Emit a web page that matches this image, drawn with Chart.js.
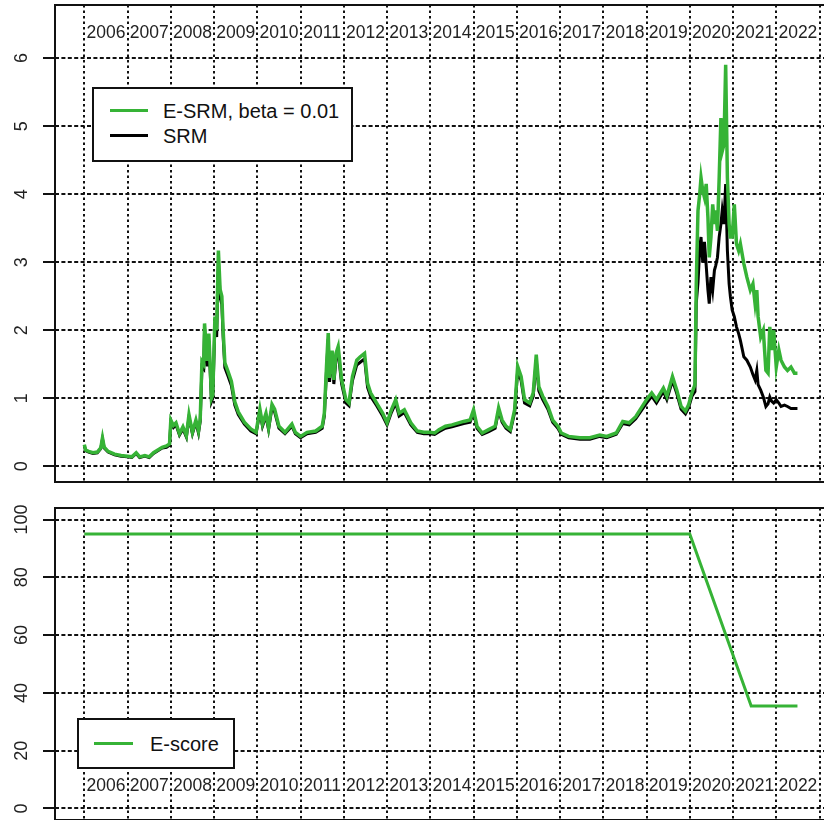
<!DOCTYPE html>
<html>
<head>
<meta charset="utf-8">
<script src="https://cdn.jsdelivr.net/npm/chart.js@4.4.0/dist/chart.umd.min.js"></script>
<style>
  html, body { margin:0; padding:0; background:#fff; overflow:hidden; width:824px; height:820px; }
  #wrap { position:relative; width:824px; height:820px; overflow:hidden; }
  canvas { position:absolute; left:0; }
  #c1 { top:0; }
  #c2 { top:490px; }
  .legend { position:absolute; background:#fff; border:2px solid #111; box-sizing:border-box;
            font-family:"Liberation Sans", Arial, sans-serif; font-size:20px; color:#111; }
  .legend .row { position:absolute; left:0; height:24px; line-height:24px; white-space:nowrap; }
  .legend .sw { position:absolute; top:10px; height:3px; }
  .legend .tx { position:absolute; top:0; }
</style>
</head>
<body>
<div id="wrap">
  <canvas id="c1" width="830" height="490"></canvas>
  <canvas id="c2" width="830" height="330"></canvas>
  <div id="leg1" class="legend" style="left:92px;top:87px;width:261px;height:75px"></div>
  <div id="leg2" class="legend" style="left:77px;top:718px;width:158px;height:51px"></div>
</div>
<script>
// ---------------- DATA ----------------
const dates = [
  2006.00, 2006.03, 2006.10, 2006.20, 2006.30, 2006.38, 2006.42, 2006.46, 2006.55, 2006.70, 2006.85,
  2007.00, 2007.10, 2007.20, 2007.28, 2007.40, 2007.50, 2007.60, 2007.70, 2007.80, 2007.90, 2007.97,
  2008.00, 2008.06, 2008.12, 2008.20, 2008.28, 2008.36, 2008.42, 2008.50, 2008.58, 2008.64, 2008.68, 2008.72, 2008.76, 2008.78, 2008.84, 2008.88, 2008.94, 2008.97,
  2009.02, 2009.06, 2009.10, 2009.14, 2009.18, 2009.21, 2009.25, 2009.32, 2009.40, 2009.48, 2009.56, 2009.70, 2009.85, 2009.97,
  2010.06, 2010.12, 2010.20, 2010.26, 2010.34, 2010.40, 2010.50, 2010.64, 2010.80, 2010.88,
  2011.00, 2011.15, 2011.35, 2011.50, 2011.55, 2011.60, 2011.64, 2011.67, 2011.73, 2011.77, 2011.82, 2011.87, 2011.95,
  2012.05, 2012.12, 2012.20, 2012.30, 2012.38, 2012.48, 2012.55, 2012.62, 2012.76, 2012.90,
  2013.00, 2013.10, 2013.20, 2013.28, 2013.40, 2013.55, 2013.70, 2013.85,
  2014.00, 2014.10, 2014.20, 2014.35, 2014.50, 2014.77, 2014.92,
  2015.00, 2015.08, 2015.20, 2015.35, 2015.50, 2015.58, 2015.66, 2015.75, 2015.85, 2015.95,
  2016.02, 2016.10, 2016.18, 2016.30, 2016.38, 2016.45, 2016.51, 2016.60, 2016.72, 2016.83, 2016.95,
  2017.03, 2017.20, 2017.46, 2017.69, 2017.92,
  2018.08, 2018.30, 2018.45, 2018.60, 2018.75,
  2019.00, 2019.12, 2019.23, 2019.39, 2019.47, 2019.60, 2019.70, 2019.80, 2019.90, 2019.97,
  2020.05, 2020.12, 2020.15, 2020.19, 2020.23, 2020.26, 2020.30, 2020.34, 2020.38, 2020.42, 2020.45, 2020.49, 2020.53, 2020.57, 2020.60, 2020.64, 2020.68, 2020.72, 2020.75, 2020.79, 2020.83, 2020.87, 2020.91, 2020.94, 2020.98,
  2021.03, 2021.08, 2021.13, 2021.17, 2021.25, 2021.32, 2021.40, 2021.46, 2021.51, 2021.55, 2021.58, 2021.64, 2021.70, 2021.76, 2021.81, 2021.85, 2021.89, 2021.94,
  2022.00, 2022.06, 2022.11, 2022.19, 2022.26, 2022.34, 2022.42, 2022.49
];

const esrm = [
  0.32, 0.24, 0.22, 0.20, 0.21, 0.27, 0.42, 0.28, 0.22, 0.18, 0.16,
  0.15, 0.14, 0.20, 0.14, 0.16, 0.14, 0.20, 0.24, 0.28, 0.30, 0.33,
  0.68, 0.60, 0.64, 0.48, 0.58, 0.45, 0.76, 0.50, 0.68, 0.52, 0.70, 1.54, 1.50, 2.10, 1.55, 1.95, 1.00, 1.05,
  2.20, 2.00, 3.17, 2.60, 2.50, 2.00, 1.52, 1.40, 1.25, 0.95, 0.80, 0.65, 0.55, 0.50,
  0.84, 0.62, 0.78, 0.57, 0.91, 0.84, 0.59, 0.50, 0.62, 0.50,
  0.44, 0.50, 0.52, 0.59, 0.78, 1.47, 1.96, 1.30, 1.70, 1.27, 1.66, 1.76, 1.27,
  0.98, 0.93, 1.32, 1.56, 1.61, 1.66, 1.22, 1.08, 0.93, 0.78,
  0.64, 0.83, 0.98, 0.78, 0.83, 0.64, 0.52, 0.50,
  0.50, 0.49, 0.54, 0.59, 0.61, 0.66, 0.68,
  0.83, 0.59, 0.49, 0.54, 0.59, 0.86, 0.68, 0.59, 0.54, 0.83,
  1.47, 1.32, 0.98, 0.93, 1.08, 1.64, 1.17, 1.03, 0.88, 0.68, 0.59,
  0.49, 0.44, 0.42, 0.42, 0.46,
  0.44, 0.49, 0.66, 0.64, 0.73,
  0.98, 1.08, 0.98, 1.15, 1.03, 1.32, 1.12, 0.88, 0.81, 0.90,
  1.08, 1.20, 2.68, 3.76, 4.00, 4.24, 4.05, 3.95, 4.15, 3.66, 3.07, 3.37, 3.85, 3.56, 3.76, 3.46, 4.24, 5.12, 4.63, 4.73, 5.90, 4.24, 3.56, 3.37, 3.37,
  3.85, 3.27, 3.17, 3.27, 2.98, 2.78, 2.59, 2.68, 2.39, 2.59, 2.20, 1.90, 2.00, 1.41, 1.37, 2.05, 1.71, 2.00,
  1.46, 1.71, 1.56, 1.46, 1.41, 1.46, 1.37, 1.37
];

const srm = [
  0.30, 0.23, 0.21, 0.19, 0.20, 0.26, 0.40, 0.27, 0.21, 0.17, 0.15,
  0.14, 0.13, 0.19, 0.13, 0.15, 0.13, 0.19, 0.23, 0.27, 0.28, 0.31,
  0.64, 0.57, 0.61, 0.46, 0.55, 0.43, 0.72, 0.48, 0.65, 0.49, 0.66, 1.46, 1.43, 2.00, 1.47, 1.85, 0.95, 1.00,
  2.09, 1.90, 3.02, 2.48, 2.38, 1.90, 1.45, 1.33, 1.19, 0.90, 0.76, 0.62, 0.52, 0.48,
  0.80, 0.59, 0.74, 0.54, 0.87, 0.80, 0.56, 0.48, 0.59, 0.48,
  0.42, 0.48, 0.50, 0.56, 0.74, 1.40, 1.87, 1.24, 1.62, 1.21, 1.58, 1.68, 1.21,
  0.93, 0.89, 1.26, 1.49, 1.53, 1.58, 1.16, 1.03, 0.89, 0.74,
  0.61, 0.79, 0.93, 0.74, 0.79, 0.61, 0.50, 0.48,
  0.48, 0.47, 0.51, 0.56, 0.58, 0.63, 0.65,
  0.79, 0.56, 0.47, 0.51, 0.56, 0.82, 0.65, 0.56, 0.51, 0.79,
  1.40, 1.26, 0.93, 0.89, 1.03, 1.56, 1.11, 0.98, 0.84, 0.65, 0.56,
  0.47, 0.42, 0.40, 0.40, 0.44,
  0.42, 0.47, 0.63, 0.61, 0.70,
  0.93, 1.03, 0.93, 1.10, 0.98, 1.26, 1.07, 0.84, 0.77, 0.86,
  1.03, 1.10, 2.40, 2.70, 3.20, 3.37, 3.00, 3.30, 2.95, 2.59, 2.39, 2.78, 2.59, 2.88, 2.95, 3.07, 3.37, 3.56, 3.76, 3.56, 4.15, 3.17, 2.68, 2.49, 2.30,
  2.20, 2.05, 1.95, 1.85, 1.61, 1.56, 1.46, 1.35, 1.27, 1.41, 1.20, 1.12, 1.02, 0.88, 0.92, 1.02, 0.96, 0.93,
  0.98, 0.93, 0.88, 0.90, 0.88, 0.85, 0.85, 0.85
];

const escoreDates = [2006.00, 2020.00, 2021.42, 2022.49];
const escore      = [95, 95, 35.5, 35.5];

const gridYears  = [2006, 2007, 2008, 2009, 2010, 2011, 2012, 2013, 2014, 2015, 2016, 2017, 2018, 2019, 2020, 2021, 2022, 2023];
const yearLabels = ['2006','2007','2008','2009','2010','2011','2012','2013','2014','2015','2016','2017','2018','2019','2020','2021','2022'];

const seriesLabels = ['E-SRM, beta = 0.01', 'SRM', 'E-score'];

// ---------------- STYLE / CONFIG ----------------
const GREEN = '#36b336';
const FONT = '"Liberation Sans", Arial, sans-serif';
const X_MIN = 2005.322, X_MAX = 2023.15;

const toXY = (xs, ys) => xs.map((x, i) => ({x: x, y: ys[i]}));

const framePlugin = {
  id: 'frame',
  afterDraw(chart) {
    const {ctx, chartArea: a} = chart;
    ctx.save();
    ctx.strokeStyle = '#111';
    ctx.lineWidth = 2;
    ctx.strokeRect(a.left, a.top, a.right - a.left, a.bottom - a.top);
    ctx.restore();
  }
};

const yearLabelPlugin = {
  id: 'yearLabels',
  afterDraw(chart, args, opts) {
    const {ctx, chartArea: a} = chart;
    const xs = chart.scales.x;
    ctx.save();
    ctx.font = '17.5px ' + FONT;
    ctx.fillStyle = '#222';
    ctx.textAlign = 'center';
    ctx.textBaseline = 'middle';
    const y = opts.fromTop != null ? a.top + opts.fromTop : a.bottom - opts.fromBottom;
    yearLabels.forEach((lab) => {
      const v = Number(lab) + 0.5;
      ctx.fillText(lab, xs.getPixelForValue(v), y);
    });
    ctx.restore();
  }
};

function noPad(s) { s.paddingTop = 0; s.paddingBottom = 0; s.paddingLeft = 0; s.paddingRight = 0; }

function xScale() {
  return {
    type: 'linear', min: X_MIN, max: X_MAX,
    afterBuildTicks: s => { s.ticks = gridYears.map(v => ({value: v})); },
    afterFit: s => { s.height = 0; noPad(s); },
    ticks: { display: false },
    grid: { color: '#111', lineWidth: 2, drawTicks: false },
    border: { display: false, dash: [2.5, 3] }
  };
}

function yScale(min, max, step, pad) {
  return {
    type: 'linear', min: min, max: max,
    afterCalculateLabelRotation: s => { s.labelRotation = 90; },
    afterFit: s => { s.width = 55; noPad(s); },
    ticks: { stepSize: step, includeBounds: false, minRotation: 90, maxRotation: 90,
             crossAlign: 'center', padding: pad, color: '#222',
             font: { family: FONT, size: 18 } },
    grid: { color: '#111', lineWidth: 2, drawTicks: true, tickLength: 12,
            tickWidth: 2, tickColor: '#111' },
    border: { display: false, dash: [4, 2.4] }
  };
}

Chart.defaults.animation = false;

const chart1 = new Chart(document.getElementById('c1'), {
  type: 'line',
  data: {
    datasets: [
      { label: seriesLabels[0], data: toXY(dates, esrm), borderColor: GREEN, borderWidth: 3.5,
        pointRadius: 0, tension: 0, fill: false },
      { label: seriesLabels[1], data: toXY(dates, srm), borderColor: '#000', borderWidth: 3,
        pointRadius: 0, tension: 0, fill: false }
    ]
  },
  options: {
    responsive: false, animation: false,
    layout: { padding: { left: 0, right: 4, top: 5, bottom: 8 } },
    scales: { x: xScale(), y: yScale(-0.23, 6.78, 1, 16) },
    plugins: { legend: { display: false }, tooltip: { enabled: false },
               yearLabels: { fromTop: 28 } }
  },
  plugins: [framePlugin, yearLabelPlugin]
});

const chart2 = new Chart(document.getElementById('c2'), {
  type: 'line',
  data: {
    datasets: [
      { label: seriesLabels[2], data: toXY(escoreDates, escore), borderColor: GREEN, borderWidth: 3,
        pointRadius: 0, tension: 0, fill: false }
    ]
  },
  options: {
    responsive: false, animation: false,
    layout: { padding: { left: 0, right: 4, top: 18, bottom: 0 } },
    scales: { x: xScale(), y: yScale(-4, 104, 20, 6) },
    plugins: { legend: { display: false }, tooltip: { enabled: false },
               yearLabels: { fromBottom: 34 } }
  },
  plugins: [framePlugin, yearLabelPlugin]
});

// HTML legends built from the charts' datasets
function buildLegend(el, chart, opts) {
  chart.data.datasets.forEach((ds, i) => {
    const row = document.createElement('div');
    row.className = 'row';
    row.style.top = (opts.top + i * opts.step) + 'px';
    row.style.width = '100%';
    const sw = document.createElement('div');
    sw.className = 'sw';
    sw.style.left = opts.swLeft + 'px';
    sw.style.width = opts.swWidth + 'px';
    sw.style.background = ds.borderColor;
    const tx = document.createElement('span');
    tx.className = 'tx';
    tx.style.left = opts.txLeft + 'px';
    tx.textContent = ds.label;
    row.appendChild(sw);
    row.appendChild(tx);
    el.appendChild(row);
  });
}
buildLegend(document.getElementById('leg1'), chart1, {top: 10, step: 25, swLeft: 16, swWidth: 38, txLeft: 69});
buildLegend(document.getElementById('leg2'), chart2, {top: 12, step: 25, swLeft: 15, swWidth: 39, txLeft: 71});
</script>
</body>
</html>
